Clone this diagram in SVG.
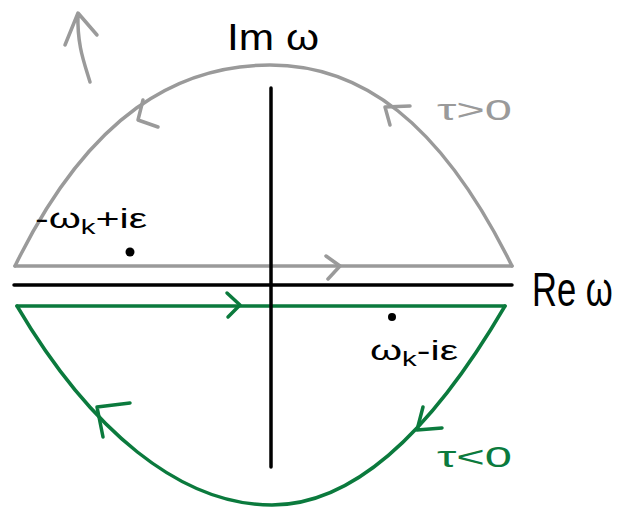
<svg xmlns="http://www.w3.org/2000/svg" width="623" height="507" viewBox="0 0 623 507">
<style>
.gray{stroke:#9a9a9a;fill:none;stroke-width:3.5;stroke-linecap:round;stroke-linejoin:round}
.green{stroke:#0b7a3d;fill:none;stroke-width:3.5;stroke-linecap:round;stroke-linejoin:round}
.axis{stroke:#000;fill:none;stroke-width:3.5;stroke-linecap:round}
.lbl{font-family:"Liberation Sans","DejaVu Sans",sans-serif;fill:#000}
</style>
<g id="connectors">
<g id="upper-contour">
<path class="gray" d="M15,266 C90,112 180,65 270,65 C360,65 440,120 512,266"/>
<path class="gray" d="M15,266 L512,266"/>
<path class="gray" d="M326,256 L340,266 L328,279"/>
<path class="gray" d="M143,100 L138,120 L158,127"/>
<path class="gray" d="M410,106 L385,107 L390,125"/>
<path class="gray" d="M90,82 C84,62 77,45 78,14 M65,45 L78,13 L97,35"/>
</g>
<g id="lower-contour">
<path class="green" d="M17,306 L505,306"/>
<path class="green" d="M17,306 C90,430 180,505 272,505 C370,505 450,400 505,306"/>
<path class="green" d="M227,293 L240,305 L228,317"/>
<path class="green" d="M130,403 L97,407 L103,437"/>
<path class="green" d="M423,407 L417,430 L442,428"/>
</g>
</g>
<g id="axes">
<path class="axis" d="M14,285 L512,285"/>
<path class="axis" d="M271,88 L271,467"/>
</g>
<g id="label-im">
<text class="lbl" x="227" y="50" font-size="36" textLength="92" lengthAdjust="spacingAndGlyphs">Im ω</text>
</g>
<g id="label-re">
<text class="lbl" transform="translate(532,306) scale(0.72,1)" x="0" y="0" font-size="48">Re ω</text>
</g>
<g id="label-tau-pos">
<text x="437" y="120" font-size="30" font-family="Liberation Sans, sans-serif" fill="#9a9a9a" textLength="75" lengthAdjust="spacingAndGlyphs">τ&gt;0</text>
</g>
<g id="label-tau-neg">
<text x="437" y="467" font-size="30" font-family="Liberation Sans, sans-serif" fill="#0b7a3d" textLength="75" lengthAdjust="spacingAndGlyphs">τ&lt;0</text>
</g>
<g id="pole-upper">
<circle cx="130" cy="252" r="4.5" fill="#000"/>
<text class="lbl" x="35" y="228" font-size="28" textLength="112" lengthAdjust="spacingAndGlyphs">-ω<tspan font-size="20" dy="6">k</tspan><tspan dy="-6">+iε</tspan></text>
</g>
<g id="pole-lower">
<circle cx="392" cy="317" r="4" fill="#000"/>
<text class="lbl" x="370" y="360" font-size="28" textLength="88" lengthAdjust="spacingAndGlyphs">ω<tspan font-size="20" dy="6">k</tspan><tspan dy="-6">-iε</tspan></text>
</g>
</svg>
